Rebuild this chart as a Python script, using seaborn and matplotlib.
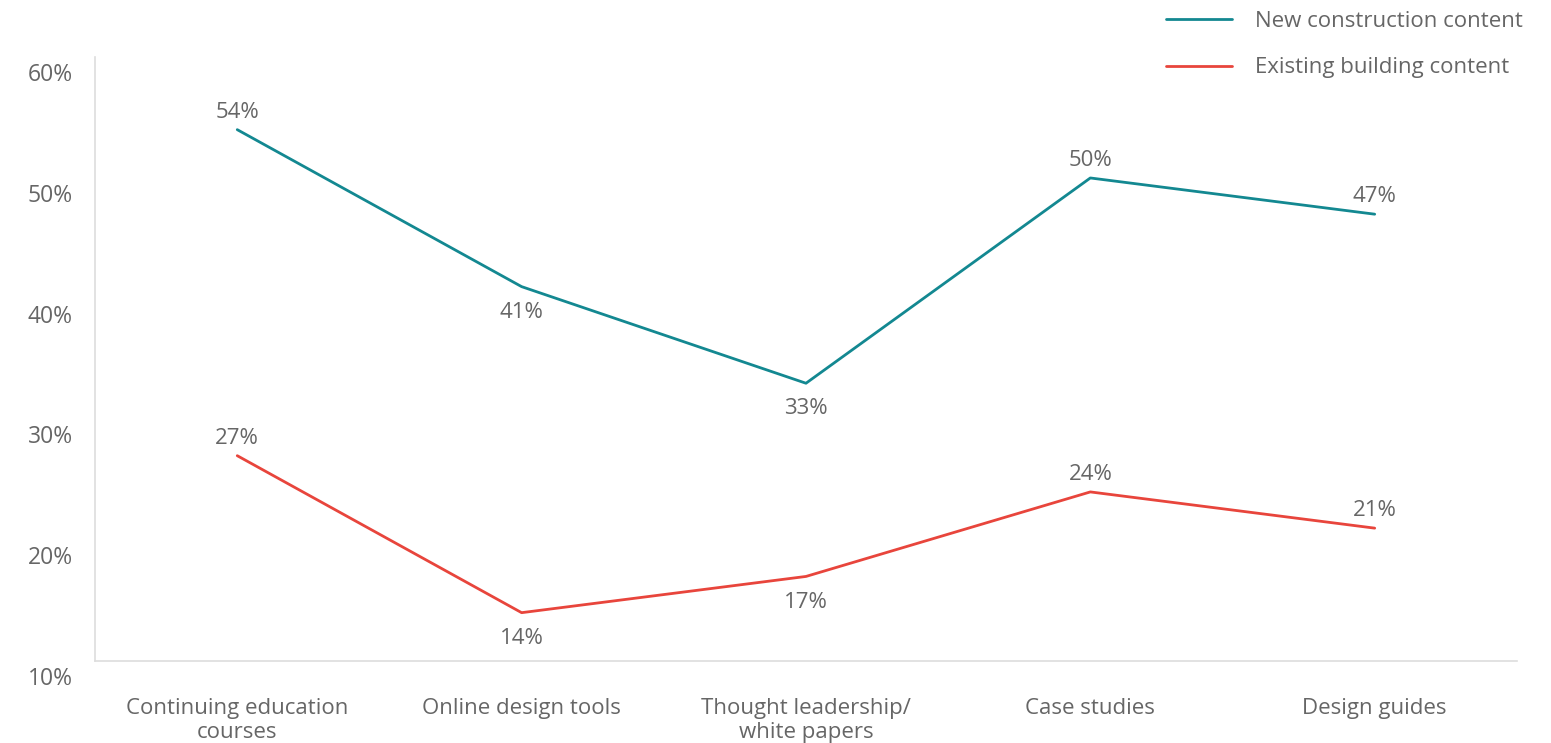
import numpy as np
import pandas as pd
import matplotlib
matplotlib.use("Agg")
import matplotlib.pyplot as plt
import seaborn as sns
from matplotlib.transforms import ScaledTranslation

# ── data ──────────────────────────────────────────────────────────
categories = ["Continuing education\ncourses", "Online design tools",
              "Thought leadership/\nwhite papers", "Case studies", "Design guides"]
new_construction = [54, 41, 33, 50, 47]
existing_building = [27, 14, 17, 24, 21]
new_label_pos = ["above", "below", "below", "above", "above"]
exist_label_pos = ["above", "below", "below", "above", "above"]
yticks = [10, 20, 30, 40, 50, 60]

TEAL = "#138891"; RED = "#E8453C"; TXT = "#666666"; AXC = "#DDDDDD"

sns.set_theme(style="white")
plt.rcParams["font.family"] = ["Open Sans", "DejaVu Sans"]

df = pd.DataFrame({
    "cat": list(range(len(categories))) * 2,
    "value": new_construction + existing_building,
    "series": ["New construction content"] * 5 + ["Existing building content"] * 5,
})

fig = plt.figure(figsize=(15.51, 7.43), dpi=100)
ax = fig.add_axes([0.0613, 0.1104, 0.9167, 0.8126])

sns.lineplot(data=df, x="cat", y="value", hue="series",
             palette={"New construction content": TEAL,
                      "Existing building content": RED},
             linewidth=2, ax=ax)

# data labels
for vals, pos in [(new_construction, new_label_pos), (existing_building, exist_label_pos)]:
    for i, (v, p) in enumerate(zip(vals, pos)):
        dy = 12.5 if p == "above" else -18.5
        ax.annotate(f"{v}%", (i, v), xytext=(0, dy), textcoords="offset points",
                    ha="center", va="center", fontsize=16, color=TXT)

ax.set_xlim(-0.5, 4.5)
ax.set_ylim(10, 60)
ax.set_xticks(range(len(categories)))
ax.set_xticklabels(categories, fontsize=16, color=TXT, linespacing=1.15)
ax.set_yticks(yticks)
ax.set_yticklabels([f"{t}%" for t in yticks], fontsize=16.5, color=TXT)
ax.tick_params(axis="both", length=0)
ax.tick_params(axis="y", pad=16)
ax.tick_params(axis="x", pad=27)
for lab in ax.get_yticklabels():
    lab.set_transform(lab.get_transform() + ScaledTranslation(0, -0.15, fig.dpi_scale_trans))
ax.set_xlabel(""); ax.set_ylabel("")

for s in ["top", "right"]:
    ax.spines[s].set_visible(False)
for s in ["left", "bottom"]:
    ax.spines[s].set_color(AXC)
    ax.spines[s].set_linewidth(1.2)

leg = ax.legend(loc="upper right", bbox_to_anchor=(1.018, 1.11), frameon=False,
                fontsize=16, handlelength=3.0, handletextpad=1.0, labelspacing=1.15)
for t in leg.get_texts():
    t.set_color(TXT)
for h in leg.get_lines():
    h.set_linewidth(2)

fig.savefig("out.png", dpi=100, facecolor="white")
